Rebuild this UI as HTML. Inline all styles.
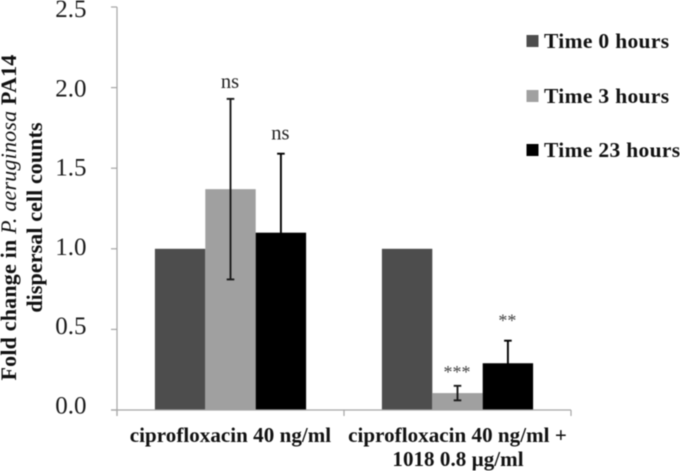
<!DOCTYPE html>
<html>
<head>
<meta charset="utf-8">
<style>
html,body{margin:0;padding:0;background:#fff;}
svg{display:block;filter:blur(0.4px);}
text{font-family:"Liberation Serif",serif;}
</style>
</head>
<body>
<svg id="chart" width="680" height="471" viewBox="0 0 680 471" xmlns="http://www.w3.org/2000/svg">
<rect width="680" height="471" fill="#fff"/>
<g id="plot"></g>
<text transform="translate(16,217.5) rotate(-90)" text-anchor="middle" font-size="22" letter-spacing="0.2" font-weight="bold" fill="#111">Fold change in <tspan font-style="italic" font-weight="normal">P. aeruginosa</tspan> PA14</text>
<text transform="translate(42,217.5) rotate(-90)" text-anchor="middle" font-size="22" letter-spacing="0.1" font-weight="bold" fill="#111">dispersal cell counts</text>
<text x="230.5" y="442" text-anchor="middle" font-size="21" letter-spacing="0.05" font-weight="bold" fill="#111">ciprofloxacin 40 ng/ml</text>
<text x="457.5" y="442" text-anchor="middle" font-size="21" letter-spacing="0.05" font-weight="bold" fill="#111">ciprofloxacin 40 ng/ml +</text>
<text x="458" y="466" text-anchor="middle" font-size="21" letter-spacing="0.05" font-weight="bold" fill="#111">1018 0.8 µg/ml</text>
<g>
<rect x="526.5" y="35" width="12" height="12" fill="#4d4d4d"/>
<text x="544" y="48" font-size="21.5" letter-spacing="0.33" font-weight="bold" fill="#111">Time 0 hours</text>
<rect x="526.5" y="90" width="12" height="12" fill="#a0a0a0"/>
<text x="544" y="103" font-size="21.5" letter-spacing="0.33" font-weight="bold" fill="#111">Time 3 hours</text>
<rect x="526.5" y="144" width="12" height="12" fill="#000"/>
<text x="544" y="157" font-size="21.5" letter-spacing="0.33" font-weight="bold" fill="#111">Time 23 hours</text>
</g>
</svg>
<script>
var categories = ['ciprofloxacin 40 ng/ml', 'ciprofloxacin 40 ng/ml + 1018 0.8 ug/ml'];
var seriesNames = ['time-0', 'time-3', 'time-23'];
var time0Values = [1.0, 1.0];
var time3Values = [1.37, 0.105];
var time23Values = [1.10, 0.29];
var time0Errors = [0, 0];
var time3Errors = [0.56, 0.045];
var time23Errors = [0.49, 0.14];
var time0Marks = ['', ''];
var time3Marks = ['ns', '***'];
var time23Marks = ['ns', '**'];
var yTickLabels = ['0.0', '0.5', '1.0', '1.5', '2.0', '2.5'];

var svgNS = 'http://www.w3.org/2000/svg';
var plot = document.getElementById('plot');
var x0 = 117, x1 = 571, yBase = 410, yTop = 7, yMax = 2.5;
var barW = 50.4;
var colors = ['#4d4d4d', '#a0a0a0', '#000'];
var allValues = [time0Values, time3Values, time23Values];
var allErrors = [time0Errors, time3Errors, time23Errors];
var allMarks = [time0Marks, time3Marks, time23Marks];

function yScale(v) { return yBase - (v / yMax) * (yBase - yTop); }
function catCenter(i) { return x0 + (x1 - x0) * (i + 0.5) / categories.length; }
function barLeft(c, s) { return catCenter(c) + (s - 1.5) * barW; }
function make(tag, attrs, parent) {
  var el = document.createElementNS(svgNS, tag);
  for (var k in attrs) el.setAttribute(k, attrs[k]);
  parent.appendChild(el);
  return el;
}

// bars
allValues.forEach(function (vals, s) {
  vals.forEach(function (v, c) {
    var bar = make('rect', {x: barLeft(c, s), y: yScale(v), width: barW, height: yBase - yScale(v), fill: colors[s]}, plot);
    
    
  });
});

// axes
var yAxis = make('line', {x1: x0, x2: x0, y1: yTop, y2: yBase + 6, stroke: '#a6a6a6', 'stroke-width': 1.2}, plot);


var xAxis = make('line', {x1: x0 - 6, x2: x1, y1: yBase, y2: yBase, stroke: '#a6a6a6', 'stroke-width': 1.2}, plot);



yTickLabels.forEach(function (label) {
  var val = parseFloat(label);
  var y = yScale(val);
  var tick = make('line', {x1: x0 - 6, x2: x0, y1: y, y2: y, stroke: '#a6a6a6', 'stroke-width': 1.2}, plot);
  
  
  var t = make('text', {x: 86.5, y: y + 3.5 + val * 2.6, 'text-anchor': 'end', 'font-size': 25, fill: '#1a1a1a'}, plot);
  t.textContent = label;
  
  
});
for (var i = 0; i <= categories.length; i++) {
  var tx = x0 + (x1 - x0) * i / categories.length;
  var xt = make('line', {x1: tx, x2: tx, y1: yBase, y2: yBase + 6, stroke: '#a6a6a6', 'stroke-width': 1.2}, plot);
  
  
}

// error bars and significance marks
allValues.forEach(function (vals, s) {
  vals.forEach(function (v, c) {
    var err = allErrors[s][c];
    var cx = barLeft(c, s) + barW / 2;
    var ink = s === 2 ? '#000' : '#1a1a1a';
    if (err > 0) {
      var top = yScale(v + err), bottom = yScale(v - err);
      var stem = make('line', {x1: cx, x2: cx, y1: top, y2: bottom, stroke: ink, 'stroke-width': 1.9}, plot);
      
      
      var capTop = make('line', {x1: cx - 3.8, x2: cx + 3.8, y1: top, y2: top, stroke: ink, 'stroke-width': 1.9}, plot);
      
      
      var capBottom = make('line', {x1: cx - 3.8, x2: cx + 3.8, y1: bottom, y2: bottom, stroke: ink, 'stroke-width': 1.9}, plot);
      
      
    }
    var mark = allMarks[s][c];
    if (mark) {
      var isNs = mark === 'ns';
      var gap = isNs ? (s === 1 ? 11 : 14) : (s === 1 ? 8 : 14);
      var m = make('text', {
        x: cx - 0.5,
        y: yScale(v + err) - gap,
        'text-anchor': 'middle',
        'font-size': isNs ? 20.5 : 18,
        fill: isNs ? '#222' : '#444'
      }, plot);
      m.textContent = mark;
      
      
    }
  });
});
</script>
</body>
</html>
